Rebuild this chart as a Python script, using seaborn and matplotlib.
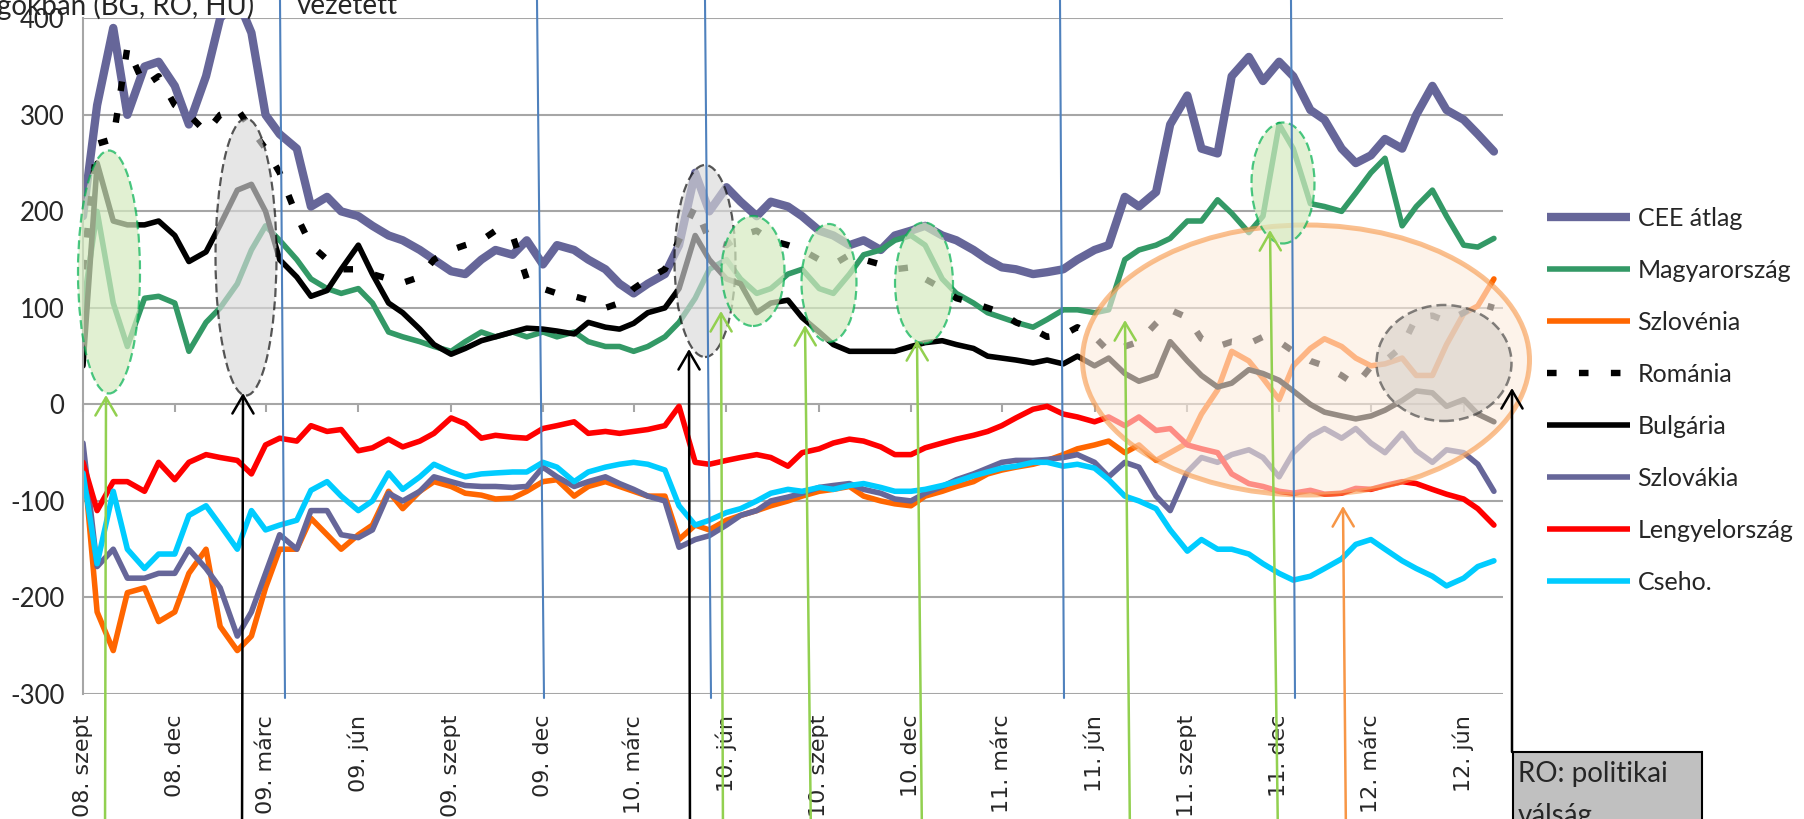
import numpy as np
import pandas as pd
import seaborn as sns
import matplotlib.pyplot as plt
import matplotlib.dates as mdates
from matplotlib.patches import Ellipse, Rectangle, FancyArrowPatch
from matplotlib.lines import Line2D

sns.set_style("white")
plt.rcParams['font.family'] = ['Lato', 'DejaVu Sans']
plt.rcParams['axes.unicode_minus'] = False

## data: semi-monthly readings, 2008-09-01 .. 2012-07-01
dates = pd.date_range('2008-09-01', periods=93, freq='SMS')

cee = [195, 310, 390, 300, 350, 355, 330, 290, 340, 400, 420, 385, 300, 280, 265, 205,
       215, 200, 195, 185, 175, 170, 160, 150, 138, 135, 150, 160, 155, 170, 145, 165,
       160, 150, 140, 125, 115, 125, 135, 165, 240, 200, 225, 210, 195, 210, 205, 195,
       180, 175, 165, 170, 160, 175, 180, 185, 175, 170, 160, 150, 142, 140, 135, 137,
       140, 150, 160, 165, 215, 205, 220, 290, 320, 265, 260, 340, 360, 335, 355, 340,
       305, 295, 265, 250, 258, 275, 265, 300, 330, 305, 295, 280, 262]
hu = [100, 200, 105, 60, 110, 112, 105, 55, 85, 100, 125, 160, 185, 170, 150, 130,
      120, 115, 120, 105, 75, 70, 65, 60, 55, 65, 75, 70, 75, 70, 75, 70,
      75, 65, 60, 60, 55, 60, 70, 85, 110, 140, 150, 130, 115, 120, 135, 140,
      120, 115, 135, 155, 160, 170, 175, 165, 130, 115, 105, 95, 90, 85, 80, 88,
      98, 98, 95, 98, 150, 160, 165, 172, 190, 190, 212, 198, 178, 195, 290, 265,
      208, 205, 200, 219, 240, 255, 185, 205, 222, 195, 165, 163, 172]
si = [-50, -215, -255, -195, -190, -225, -215, -175, -150, -230, -255, -240, -190, -150, -150, -118,
      -135, -150, -135, -125, -90, -108, -90, -80, -85, -92, -94, -98, -97, -90, -80, -78,
      -95, -85, -80, -85, -90, -95, -95, -140, -125, -130, -120, -115, -110, -105, -100, -95,
      -90, -88, -85, -95, -100, -103, -105, -95, -90, -85, -80, -72, -68, -65, -62, -58,
      -52, -46, -42, -38, -50, -42, -58, -50, -40, -10, 15, 55, 45, 27, 5, 40,
      58, 68, 60, 48, 40, 42, 48, 30, 30, 62, 94, 102, 130]
ro = [140, 270, 275, 370, 330, 340, 310, 300, 282, 300, 306, 285, 265, 240, 195, 165,
      150, 140, 140, 135, 130, 126, 132, 150, 160, 165, 170, 180, 175, 130, 120, 115,
      112, 108, 100, 105, 120, 130, 140, 170, 205, 170, 165, 175, 180, 170, 165, 160,
      150, 145, 155, 150, 145, 140, 142, 130, 120, 110, 105, 100, 95, 85, 78, 70,
      72, 80, 70, 55, 60, 65, 84, 98, 90, 68, 60, 65, 63, 70, 65, 55,
      45, 40, 30, 20, 39, 45, 60, 90, 92, 86, 95, 105, 100]
bg = [40, 250, 190, 186, 186, 190, 175, 148, 158, 186, 222, 228, 200, 150, 132, 112,
      118, 140, 165, 135, 105, 95, 78, 62, 52, 58, 66, 70, 75, 79, 78, 76,
      73, 85, 80, 78, 84, 95, 100, 120, 175, 150, 130, 125, 95, 105, 108, 90,
      75, 62, 55, 55, 55, 55, 60, 64, 66, 62, 58, 50, 48, 46, 43, 46,
      42, 50, 40, 48, 32, 24, 30, 65, 45, 30, 18, 22, 36, 32, 25, 14,
      0, -8, -12, -15, -12, -6, 4, 14, 12, -2, 5, -10, -18]
sk = [-40, -168, -150, -180, -180, -175, -175, -150, -170, -190, -240, -215, -175, -135, -150, -110,
      -110, -135, -138, -130, -92, -100, -90, -75, -80, -84, -85, -85, -86, -85, -65, -75,
      -85, -80, -75, -82, -88, -95, -100, -148, -140, -136, -125, -115, -110, -100, -96, -92,
      -86, -84, -82, -88, -92, -98, -100, -92, -85, -78, -72, -66, -60, -58, -58, -57,
      -55, -52, -60, -75, -60, -65, -95, -110, -70, -55, -60, -52, -47, -55, -75, -50,
      -33, -25, -35, -25, -40, -50, -30, -48, -60, -47, -50, -62, -90]
pl = [-60, -110, -80, -80, -90, -60, -78, -60, -52, -55, -58, -72, -42, -35, -38, -22,
      -28, -26, -48, -45, -36, -44, -38, -30, -14, -20, -35, -32, -34, -35, -25, -22,
      -18, -30, -28, -30, -28, -26, -22, -2, -60, -62, -58, -55, -52, -55, -64, -50,
      -46, -40, -36, -38, -44, -52, -52, -45, -40, -36, -32, -28, -22, -14, -5, -2,
      -10, -13, -18, -13, -22, -13, -27, -25, -42, -46, -50, -72, -82, -85, -90, -92,
      -89, -93, -92, -87, -88, -84, -80, -82, -88, -93, -98, -108, -125]
cz = [-71, -165, -90, -150, -170, -155, -155, -115, -105, -125, -150, -110, -130, -125, -120, -89,
      -80, -95, -110, -100, -71, -88, -75, -62, -70, -75, -72, -71, -70, -70, -60, -65,
      -80, -70, -65, -62, -60, -62, -68, -105, -125, -120, -112, -108, -100, -92, -88, -90,
      -86, -88, -84, -82, -86, -90, -90, -88, -84, -80, -74, -70, -66, -64, -60, -60,
      -64, -62, -66, -78, -95, -100, -108, -130, -152, -140, -150, -150, -155, -165, -175, -182,
      -178, -170, -160, -145, -140, -150, -162, -170, -178, -188, -180, -168, -162]

names = ["CEE átlag", "Magyarország", "Szlovénia", "Románia", "Bulgária",
         "Szlovákia", "Lengyelország", "Cseho."]
values = [cee, hu, si, ro, bg, sk, pl, cz]
colors = ["#666699", "#339966", "#FF6600", "black", "black", "#666699", "#FF0000", "#00CCFF"]
widths = [6.0, 4.0, 4.0, 4.6, 4.0, 4.0, 4.0, 4.0]
styles = ["-", "-", "-", (0, (1.5, 3.5)), "-", "-", "-", "-"]

tick_dates = pd.date_range('2008-09-01', '2012-06-01', freq='3MS')
tick_labels = ["08. szept", "08. dec", "09. márc", "09. jún", "09. szept", "09. dec",
               "10. márc", "10. jún", "10. szept", "10. dec", "11. márc", "11. jún",
               "11. szept", "11. dec", "12. márc", "12. jún"]

## annotation overlay, figure pixels
W, H = 1804, 819
def fx(x):
    return x / W
def fy(y):
    return 1 - y / H

blue_lines = [(280, 285), (537, 544), (705, 711), (1060, 1064), (1291, 1295)]
# (cx, cy, w, h, kind)
ellipses = [(109, 272, 62, 243, 'green'), (246, 257, 61, 277, 'gray'),
            (705, 261, 61, 192, 'gray'), (753, 271, 63, 110, 'green'),
            (829, 283, 55, 118, 'green'), (924, 283, 58, 121, 'green'),
            (1306, 360, 447, 270, 'orange'), (1283, 183, 63, 121, 'green'),
            (1444, 363, 135, 116, 'gray2')]
# (x_bottom, y_bottom, x_tip, y_tip, colour)
arrows = [(105, 840, 106, 395, '#92D050'), (723, 840, 721, 311, '#92D050'),
          (811, 840, 805, 325, '#92D050'), (922, 840, 917, 340, '#92D050'),
          (1130, 840, 1125, 320, '#92D050'), (1278, 840, 1270, 230, '#92D050'),
          (1346, 840, 1343, 506, '#F79646'), (242, 840, 243, 393, 'black'),
          (690, 840, 689, 349, 'black'), (1512, 752, 1512, 388, 'black')]

## plot
fig = plt.figure(figsize=(18.04, 8.19), dpi=100)
ax = fig.add_axes([fx(83), fy(694), (1503 - 83) / W, (694 - 18.3) / H])

for name, vals, col, lw, ls in zip(names, values, colors, widths, styles):
    sns.lineplot(x=dates, y=vals, ax=ax, color=col, lw=lw, linestyle=ls,
                 solid_joinstyle='round', solid_capstyle='round', dash_capstyle='butt')

ax.set_ylim(-300, 400)
ax.set_xlim(pd.Timestamp('2008-09-01'), pd.Timestamp('2012-07-10'))
ax.set_yticks(range(-300, 401, 100))
ax.set_axisbelow(True)
ax.yaxis.grid(True, color='#A6A6A6', lw=1.5)
ax.xaxis.grid(False)
ax.set_xlabel('')
ax.set_ylabel('')
for s in ['top', 'right', 'bottom']:
    ax.spines[s].set_visible(False)
ax.spines['left'].set_color('#A6A6A6')
ax.spines['left'].set_linewidth(1.5)
ax.tick_params(axis='y', direction='out', length=5.5, width=1.5, color='#A6A6A6',
               labelsize=18.5, pad=8)
ax.set_xticks(tick_dates)
ax.set_xticklabels(tick_labels, rotation=90, fontsize=16, family='DejaVu Sans')
ax.tick_params(axis='x', length=0, pad=15)

# tick marks on the zero line
sec = ax.secondary_xaxis(300 / 700)
sec.set_xticks(mdates.date2num(tick_dates))
sec.tick_params(axis='x', direction='out', length=5.5, width=1.5, color='#A6A6A6',
                labelbottom=False, labeltop=False)
for s in sec.spines.values():
    s.set_visible(False)

handles = [Line2D([], [], color=c, lw=lw, linestyle=ls, solid_capstyle='butt', dash_capstyle='butt')
           for c, lw, ls in zip(colors, widths, styles)]
fig.legend(handles, names, loc='upper left', bbox_to_anchor=(fx(1547), fy(207)),
           frameon=False, fontsize=18, handlelength=3.3, handletextpad=0.32,
           labelspacing=1.16, borderpad=0, borderaxespad=0)

for xt, xb in blue_lines:
    fig.add_artist(Line2D([fx(xt), fx(xb)], [fy(0), fy(698)], color='#4F81BD', lw=1.5))

for cx, cy, w, h, kind in ellipses:
    if kind == 'green':
        kw = dict(facecolor='#D5EBC0', edgecolor='#00B050', lw=1.6, linestyle=(0, (4, 2)), alpha=0.7)
    elif kind == 'gray':
        kw = dict(facecolor='#D9D9D9', edgecolor='black', lw=1.6, linestyle=(0, (4, 2)), alpha=0.65)
    elif kind == 'gray2':
        kw = dict(facecolor='#D6CFC8', edgecolor='#333333', lw=1.8, linestyle=(0, (4, 2)), alpha=0.6)
    else:
        kw = dict(facecolor='#FCEBDD', edgecolor='#F79646', lw=3.6, alpha=0.6)
    fig.add_artist(Ellipse((fx(cx), fy(cy)), w / W, h / H, transform=fig.transFigure, **kw))

for xb, yb, xt, yt, col in arrows:
    fig.add_artist(FancyArrowPatch((fx(xb), fy(yb)), (fx(xt), fy(yt)), transform=fig.transFigure,
                                   arrowstyle='->,head_length=0.65,head_width=0.38',
                                   mutation_scale=20, color=col, lw=1.8, shrinkA=0, shrinkB=0))

fig.text(fx(-3), fy(15), "gokban (BG, RO, HU)", fontsize=20, va='baseline', ha='left')
fig.text(fx(297), fy(14), "vezetett", fontsize=20, va='baseline', ha='left')

fig.add_artist(Rectangle((fx(1513), fy(840)), (1702 - 1513) / W, (840 - 752) / H,
                         transform=fig.transFigure, facecolor='#C0C0C0', edgecolor='black', lw=1.5))
fig.text(fx(1518), fy(782), "RO: politikai", fontsize=20, va='baseline', ha='left')
fig.text(fx(1518), fy(824), "válság", fontsize=20, va='baseline', ha='left')

fig.savefig('out.png', dpi=100)
